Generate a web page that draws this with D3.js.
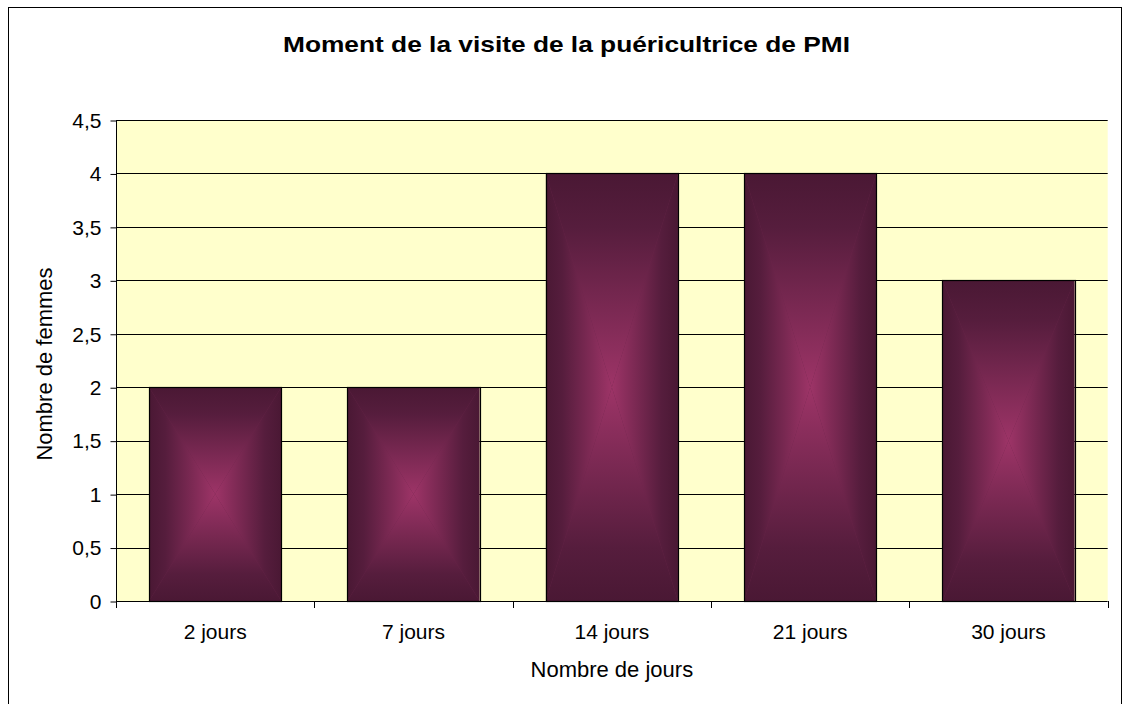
<!DOCTYPE html>
<html>
<head>
<meta charset="utf-8">
<script src="https://cdn.jsdelivr.net/npm/d3@7"></script>
<style>
  html, body { margin: 0; padding: 0; background: #fff; }
  svg { display: block; font-family: Arial, "Liberation Sans", sans-serif; }
</style>
</head>
<body>
<div id="canvas"></div>
<script>
(function () {
  'use strict';
  const categories = ['2 jours', '7 jours', '14 jours', '21 jours', '30 jours'];
  const values = [2, 2, 4, 4, 3];
  const yTicks = [0, 0.5, 1, 1.5, 2, 2.5, 3, 3.5, 4, 4.5];
  const title = 'Moment de la visite de la puéricultrice de PMI';
  const xTitle = 'Nombre de jours';
  const yTitle = 'Nombre de femmes';

  const width = 1123;
  const height = 704;
  const plot = { left: 116, right: 1107.7, top: 120, bottom: 601 };
  const edgeColor = '#4a1834';
  const centerColor = '#9d3467';

  const svg = d3.select('#canvas')
    .append('svg')
    .attr('width', width)
    .attr('height', height);

  const defs = svg.append('defs');

  // outer chart border
  svg.append('rect')
    .attr('x', 8.5)
    .attr('y', 7.5)
    .attr('width', 1113)
    .attr('height', 720)
    .attr('fill', '#fff')
    .attr('stroke', '#000')
    .attr('stroke-width', 1);

  const xScale = d3.scaleBand()
    .domain(categories)
    .range([plot.left, plot.right])
    .paddingInner(1 / 3)
    .paddingOuter(1 / 6);

  const yScale = d3.scaleLinear()
    .domain([0, 4.5])
    .range([plot.bottom, plot.top]);

  // plot background
  svg.append('rect')
    .attr('x', plot.left)
    .attr('y', plot.top)
    .attr('width', plot.right - plot.left)
    .attr('height', plot.bottom - plot.top)
    .attr('fill', '#ffffcc');

  // gridlines
  svg.append('g')
    .selectAll('line')
    .data(yTicks.filter(d => d > 0))
    .enter()
    .append('line')
    .attr('x1', plot.left)
    .attr('x2', plot.right)
    .attr('y1', d => Math.round(yScale(d)) + 0.5)
    .attr('y2', d => Math.round(yScale(d)) + 0.5)
    .attr('stroke', '#000')
    .attr('stroke-width', 1);

  // bars: rectangular gradient built from four triangles
  const bars = svg.append('g');
  values.forEach(function (v, i) {
    const x0 = xScale(categories[i]);
    const x1 = x0 + xScale.bandwidth();
    const y0 = yScale(v);
    const y1 = yScale(0);
    const cx = (x0 + x1) / 2;
    const cy = (y0 + y1) / 2;

    defs.append('clipPath')
      .attr('id', 'clip' + i)
      .append('rect')
      .attr('x', x0).attr('y', y0)
      .attr('width', x1 - x0).attr('height', y1 - y0);

    const bar = bars.append('g').attr('clip-path', 'url(#clip' + i + ')');
    bar.append('rect')
      .attr('x', x0).attr('y', y0)
      .attr('width', x1 - x0).attr('height', y1 - y0)
      .attr('fill', '#6a2449');

    const sides = [
      { pts: [[x0, y0], [x1, y0], [cx, cy]], g: [cx, y0, cx, cy] },
      { pts: [[x0, y1], [x1, y1], [cx, cy]], g: [cx, y1, cx, cy] },
      { pts: [[x0, y0], [x0, y1], [cx, cy]], g: [x0, cy, cx, cy] },
      { pts: [[x1, y0], [x1, y1], [cx, cy]], g: [x1, cy, cx, cy] }
    ];
    sides.forEach(function (s, j) {
      const id = 'g' + i + '_' + j;
      const grad = defs.append('linearGradient')
        .attr('id', id)
        .attr('gradientUnits', 'userSpaceOnUse')
        .attr('x1', s.g[0]).attr('y1', s.g[1])
        .attr('x2', s.g[2]).attr('y2', s.g[3]);
      grad.append('stop').attr('offset', 0).attr('stop-color', edgeColor);
      grad.append('stop').attr('offset', 0.25).attr('stop-color', '#561d3d');
      grad.append('stop').attr('offset', 1).attr('stop-color', centerColor);
      bar.append('polygon')
        .attr('points', s.pts.map(p => p.join(',')).join(' '))
        .attr('fill', 'url(#' + id + ')');
    });
    bars.append('rect')
      .attr('x', Math.round(x0) + 0.5)
      .attr('y', Math.round(y0) + 0.5)
      .attr('width', Math.round(x1) - Math.round(x0))
      .attr('height', Math.round(y1) - Math.round(y0))
      .attr('fill', 'none')
      .attr('stroke', '#000')
      .attr('stroke-width', 1.2);
  });

  // y axis
  const yAxis = d3.axisLeft(yScale)
    .tickValues(yTicks)
    .tickSize(6)
    .tickPadding(9)
    .tickFormat(d => String(d).replace('.', ','));

  const gy = svg.append('g')
    .attr('transform', 'translate(' + (plot.left + 0.5) + ',0.5)')
    .call(yAxis);
  gy.select('.domain').attr('d', 'M0,' + plot.top + 'V' + plot.bottom).attr('stroke', '#000');
  gy.selectAll('.tick line').attr('stroke', '#000');
  gy.selectAll('.tick text')
    .attr('font-size', 21)
    .attr('font-family', 'Arial, "Liberation Sans", sans-serif')
    .attr('fill', '#000');

  // x axis line and boundary ticks
  const step = xScale.step();
  const bounds = d3.range(categories.length + 1).map(k => plot.left + k * step);
  const gx = svg.append('g');
  gx.append('line')
    .attr('x1', plot.left)
    .attr('x2', plot.right)
    .attr('y1', plot.bottom + 0.5)
    .attr('y2', plot.bottom + 0.5)
    .attr('stroke', '#000');
  gx.selectAll('line.tick')
    .data(bounds)
    .enter()
    .append('line')
    .attr('class', 'tick')
    .attr('x1', d => Math.round(d) + 0.5)
    .attr('x2', d => Math.round(d) + 0.5)
    .attr('y1', plot.bottom)
    .attr('y2', plot.bottom + 7)
    .attr('stroke', '#000');
  gx.selectAll('text')
    .data(categories)
    .enter()
    .append('text')
    .attr('x', d => xScale(d) + xScale.bandwidth() / 2)
    .attr('y', 639)
    .attr('text-anchor', 'middle')
    .attr('font-size', 21)
    .attr('fill', '#000')
    .text(d => d);

  // titles
  svg.append('text')
    .attr('x', 566.5)
    .attr('y', 51.5)
    .attr('text-anchor', 'middle')
    .attr('font-size', 22)
    .attr('font-weight', 'bold')
    .attr('textLength', 567)
    .attr('lengthAdjust', 'spacingAndGlyphs')
    .text(title);

  svg.append('text')
    .attr('x', (plot.left + plot.right) / 2)
    .attr('y', 677)
    .attr('text-anchor', 'middle')
    .attr('font-size', 22)
    .text(xTitle);

  svg.append('text')
    .attr('transform', 'translate(52,364) rotate(-90)')
    .attr('text-anchor', 'middle')
    .attr('font-size', 22)
    .text(yTitle);
}());
</script>
</body>
</html>
